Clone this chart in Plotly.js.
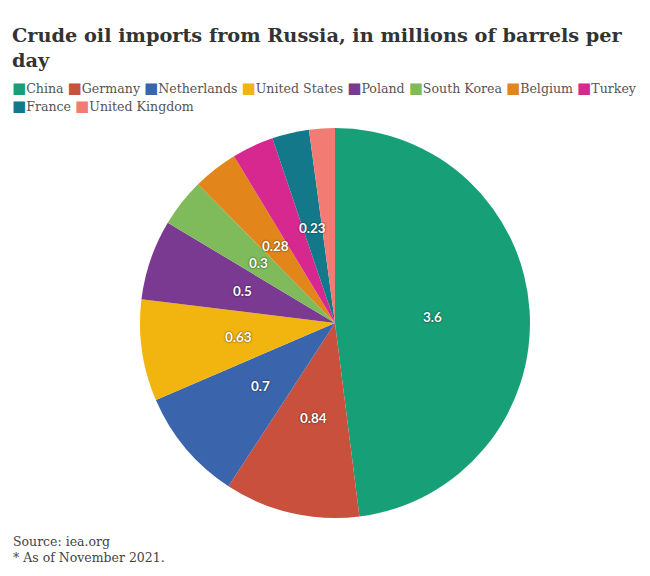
<!DOCTYPE html>
<html><head><meta charset="utf-8">
<script src="https://cdn.plot.ly/plotly-3.0.1.min.js"></script>
<style>html,body{margin:0;padding:0;background:#fff}</style>
</head><body><div id="chart" style="width:650px;height:576px"></div>
<script>
const countries = ["China","Germany","Netherlands","United States","Poland","South Korea","Belgium","Turkey","France","United Kingdom"];
const imports = [3.6,0.84,0.7,0.63,0.5,0.3,0.28,0.26,0.23,0.16];
const sliceLabels = ["3.6","0.84","0.7","0.63","0.5","0.3","0.28","","0.23",""];
const colors = ["#17a077","#c9503d","#3a65ad","#f2b50f","#7b3a91","#7fbb5b","#e2861b","#d6288f","#13798a","#f27b73"];
const legendRows = [8, 2];

const pieDomain = {x: [140/650, 530/650], y: [58/576, 448/576]};

const pieTrace = {
  type: "pie",
  labels: countries,
  values: imports,
  textinfo: "none",
  hoverinfo: "label+value",
  sort: false,
  direction: "clockwise",
  rotation: 0,
  showlegend: false,
  marker: {colors: colors, line: {width: 0}},
  domain: pieDomain
};

// invisible helper trace so the hidden axes exist for placing slice labels
const axisTrace = {
  type: "scatter", mode: "none", x: [-1, 1], y: [-1, 1],
  hoverinfo: "skip", showlegend: false
};

const annotations = [];

// slice value labels derived from the data: mid-angle of each slice, half radius
const total = imports.reduce((a, b) => a + b, 0);
let cum = 0;
imports.forEach((v, i) => {
  const mid = (cum + v / 2) / total * 2 * Math.PI;
  cum += v;
  if (!sliceLabels[i]) return;
  annotations.push({
    text: sliceLabels[i], showarrow: false,
    xref: "x", yref: "y", x: 0.5 * Math.sin(mid), y: 0.5 * Math.cos(mid),
    xanchor: "center", yanchor: "middle",
    font: {family: "Lato, sans-serif", size: 13.5, color: "#ffffff", weight: "bold",
           shadow: "0px 0px 2px rgba(0,0,0,0.8)"}
  });
});

// legend rows built from the category/colour arrays
let idx = 0;
legendRows.forEach((n, row) => {
  const parts = [];
  for (let i = 0; i < n; i++, idx++) {
    parts.push('<span style="color:' + colors[idx] + ';font-size:15px">■</span>' + countries[idx]);
  }
  annotations.push({
    text: parts.join(" "), showarrow: false, align: "left",
    xref: "paper", yref: "paper", x: 10/650, xanchor: "left",
    y: 1 - (88 + row * 17.5)/576, yanchor: "middle",
    font: {family: "DejaVu Serif, serif", size: 12.6, color: "#555555"}
  });
});
annotations.push({
  text: "Source: iea.org<br>* As of November 2021.", showarrow: false, align: "left",
  xref: "paper", yref: "paper", x: 11/650, xanchor: "left", y: 1 - 532/576, yanchor: "top",
  font: {family: "DejaVu Serif, serif", size: 12.5, color: "#444444"}
});

const layout = {
  width: 650, height: 576,
  margin: {l: 0, r: 0, t: 0, b: 0},
  paper_bgcolor: "#ffffff",
  plot_bgcolor: "rgba(0,0,0,0)",
  showlegend: false,
  title: {
    text: "<b>Crude oil imports from Russia, in millions of barrels per<br>day</b>",
    font: {family: "DejaVu Serif, serif", size: 19.3, color: "#333333"},
    x: 12/650, xanchor: "left", y: 1 - 42/576, yanchor: "top", yref: "container"
  },
  xaxis: {domain: pieDomain.x, range: [-1, 1], visible: false, fixedrange: true},
  yaxis: {domain: pieDomain.y, range: [-1, 1], visible: false, fixedrange: true},
  annotations: annotations
};

Plotly.newPlot("chart", [axisTrace, pieTrace], layout, {displayModeBar: false, responsive: false});
</script></body></html>
